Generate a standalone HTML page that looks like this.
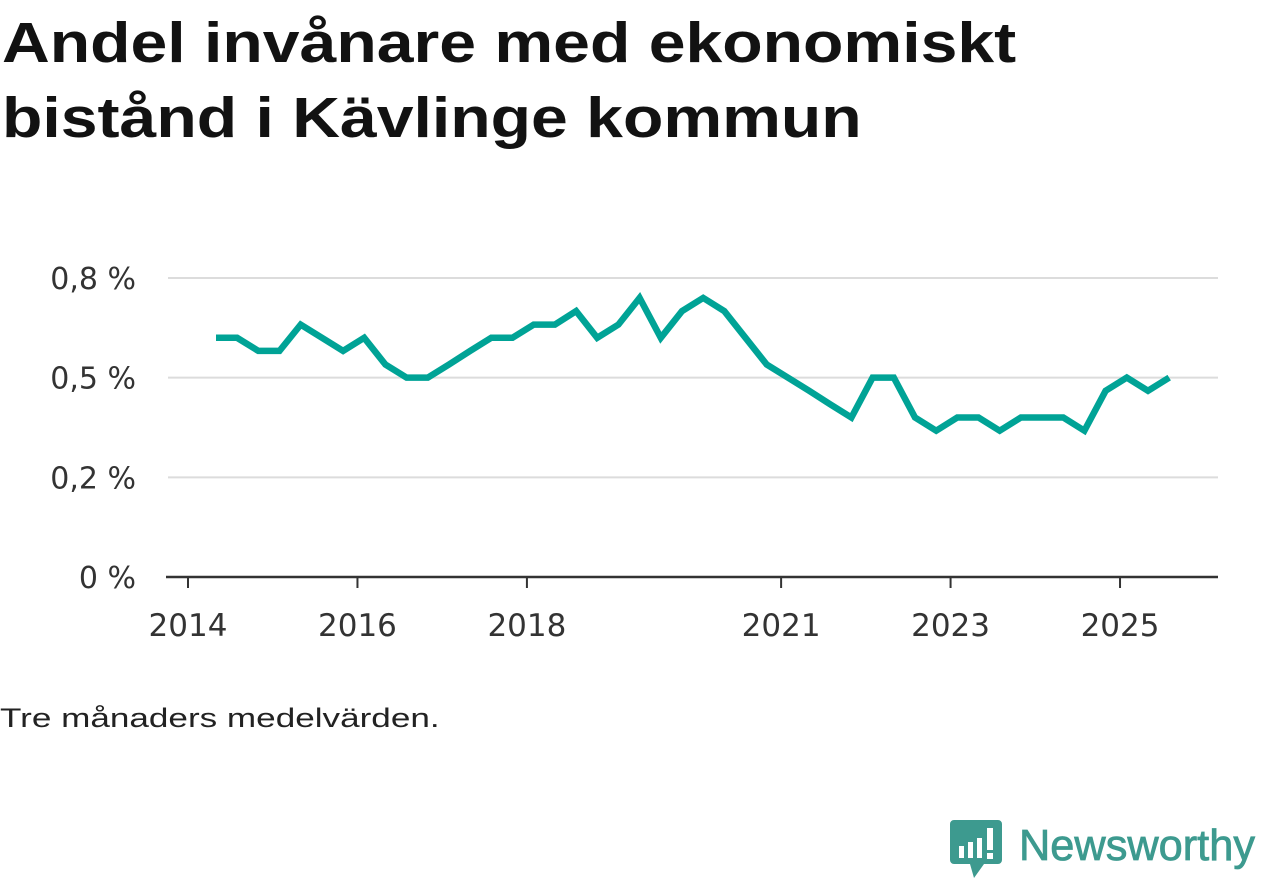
<!DOCTYPE html>
<html><head><meta charset="utf-8"><style>
body{margin:0;width:1262px;height:879px;background:#fff;overflow:hidden;font-family:"Liberation Sans",sans-serif;}
h1{position:absolute;left:2px;top:6px;margin:0;font-size:57px;line-height:75px;font-weight:bold;color:#121212;transform:scaleX(1.16);transform-origin:0 0;white-space:nowrap}
#note{position:absolute;left:0;top:703px;font-size:27px;color:#222;transform:scaleX(1.3);transform-origin:0 0;white-space:nowrap}
#logo{position:absolute;left:950px;top:818px}
</style></head><body>
<h1>Andel invånare med ekonomiskt<br>bistånd i Kävlinge kommun</h1>
<svg id="chart" width="1262" height="879" style="position:absolute;left:0;top:0"></svg>
<div id="note">Tre månaders medelvärden.</div>
<svg id="logo" width="312" height="62">
<path d="M4 2h44a4 4 0 0 1 4 4v36a4 4 0 0 1-4 4H34l-10 14-4-14H4a4 4 0 0 1-4-4V6a4 4 0 0 1 4-4z" fill="#3d9a8f"/>
<rect x="9" y="28" width="5" height="12" fill="#fff"/><rect x="18" y="24" width="5" height="16" fill="#fff"/><rect x="27" y="20" width="5" height="20" fill="#fff"/><rect x="37" y="10" width="6" height="22" fill="#fff"/><rect x="37" y="35" width="6" height="6" fill="#fff"/>
<text x="69" y="42" font-size="44" fill="#3d9a8f" stroke="#3d9a8f" stroke-width="0.8" font-family="Liberation Sans, sans-serif" textLength="236" lengthAdjust="spacingAndGlyphs">Newsworthy</text>
</svg>
<script>
const yTicks=[0,0.25,0.5,0.75];
const yTickLabels=["0 %","0,2 %","0,5 %","0,8 %"];
const xTicks=[2014,2016,2018,2021,2023,2025];
const startDate=2014.33, stepYears=0.25;
const values=[0.6,0.6,0.567,0.567,0.633,0.6,0.567,0.6,0.533,0.5,0.5,0.533,0.567,0.6,0.6,0.633,0.633,0.667,0.6,0.633,0.7,0.6,0.667,0.7,0.667,0.6,0.533,0.5,0.467,0.433,0.4,0.5,0.5,0.4,0.367,0.4,0.4,0.367,0.4,0.4,0.4,0.367,0.467,0.5,0.467,0.5];
const NS="http://www.w3.org/2000/svg";
const svg=document.getElementById('chart');
const xs=t=>188+(t-2014)*84.73;
const ys=v=>577-v*398.7;
function mk(tag,attrs){const e=document.createElementNS(NS,tag);for(const k in attrs)e.setAttribute(k,attrs[k]);svg.appendChild(e);return e;}
yTicks.forEach((v,i)=>{
  if(v>0){const g=mk('line',{x1:168,x2:1218,y1:ys(v),y2:ys(v),stroke:'#dcdcdc','stroke-width':2});
  
  }
  const t=mk('text',{x:136,y:ys(v)+11,'text-anchor':'end','font-size':30,fill:'#333','font-family':'DejaVu Sans, sans-serif'});
  t.textContent=yTickLabels[i];
  
  
});
const ax=mk('line',{x1:166,x2:1218,y1:577,y2:577,stroke:'#333','stroke-width':2.5});


xTicks.forEach(y=>{
  const tk=mk('line',{x1:xs(y),x2:xs(y),y1:577,y2:588,stroke:'#333','stroke-width':2});
  
  
  const t=mk('text',{x:xs(y),y:636,'text-anchor':'middle','font-size':31,fill:'#333','font-family':'DejaVu Sans, sans-serif'});
  t.textContent=y;
  
  
});
const pts=values.map((v,i)=>xs(startDate+i*stepYears).toFixed(1)+','+ys(v).toFixed(1)).join(' ');
const line=mk('polyline',{points:pts,fill:'none',stroke:'#00a396','stroke-width':6.5,'stroke-linejoin':'miter'});


</script>
</body></html>
